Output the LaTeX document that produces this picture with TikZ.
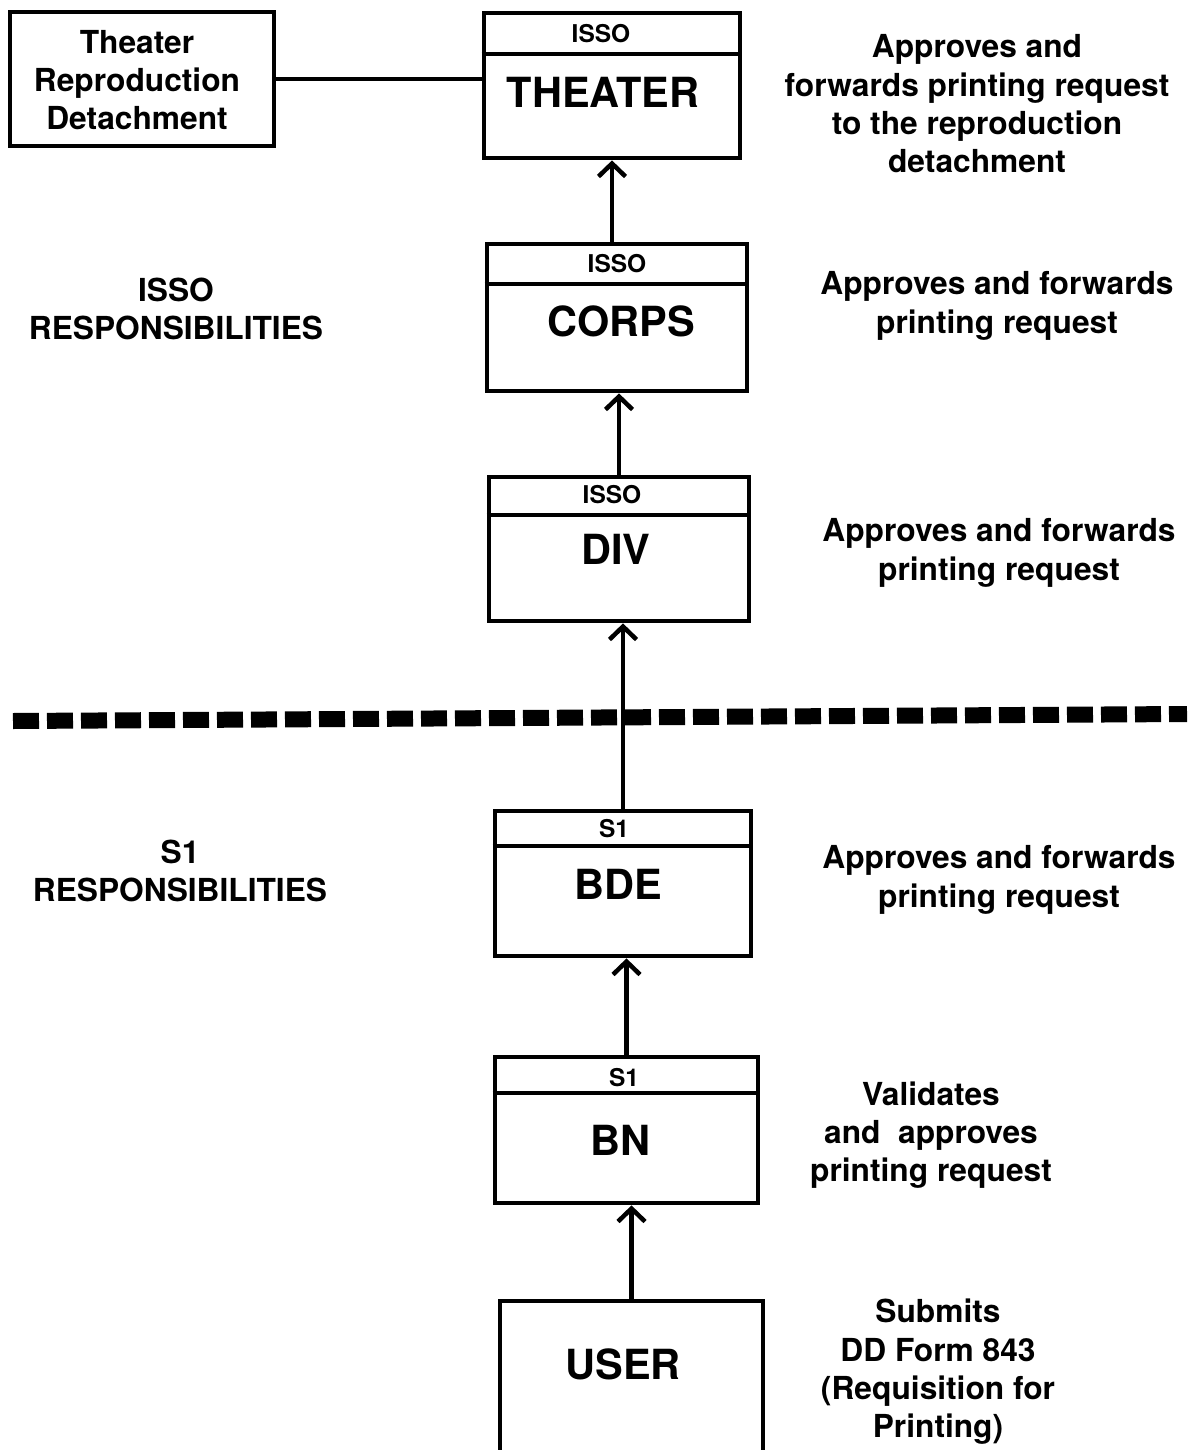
\documentclass[tikz,border=0pt]{standalone}
\usepackage{fontspec}
\setmainfont{TeX Gyre Heros}
\usetikzlibrary{arrows.meta}
\begin{document}
\begin{tikzpicture}[x=1pt,y=-1pt,
  box/.style={draw,line width=4.8pt,rectangle,inner sep=0pt},
  hdr/.style={font=\fontsize{24.5}{28}\selectfont\bfseries,inner sep=0pt},
  lbl/.style={font=\fontsize{41.5}{46}\selectfont\bfseries,inner sep=0pt},
  txt/.style={font=\fontsize{31.7}{38.3}\selectfont\bfseries,align=center,inner sep=0pt},
  divline/.style={line width=3.5pt},
  arr/.style={line width=4.5pt,-{Straight Barb[length=13pt,width=27pt,line width=4.5pt]}}]
\useasboundingbox (0,0) rectangle (1187,1450);
\clip (0,0) rectangle (1187,1450);
% boxes
\node[box,minimum width=264pt,minimum height=134pt] (trd) at (142,79) {};
\node[txt] (trdtxt) at (137,80) {Theater\\Reproduction\\Detachment};
\node[box,minimum width=256pt,minimum height=145pt] (theater) at (612,85.5) {};
\node[box,minimum width=260pt,minimum height=147pt] (corps) at (617,317.5) {};
\node[box,minimum width=260pt,minimum height=144pt] (div) at (619,549) {};
\node[box,minimum width=256pt,minimum height=145pt] (bde) at (623,883.5) {};
\node[box,minimum width=263pt,minimum height=146pt] (bn) at (626.5,1130) {};
\node[box,minimum width=263pt,minimum height=170pt] (user) at (631.5,1386) {};
% header dividers
\coordinate (thd) at (612,54);
\coordinate (cod) at (617,284);
\coordinate (dvd) at (619,515);
\coordinate (bdd) at (623,846);
\coordinate (bnd) at (626.5,1093);
\draw[divline] (theater.west |- thd) -- (theater.east |- thd);
\draw[divline] (corps.west |- cod) -- (corps.east |- cod);
\draw[divline] (div.west |- dvd) -- (div.east |- dvd);
\draw[divline] (bde.west |- bdd) -- (bde.east |- bdd);
\draw[divline] (bn.west |- bnd) -- (bn.east |- bnd);
% header labels
\node[hdr] (thh) at (601,34) {ISSO};
\node[hdr] (coh) at (617,264) {ISSO};
\node[hdr] (dvh) at (612,495) {ISSO};
\node[hdr] (bdh) at (614,829) {S1};
\node[hdr] (bnh) at (624,1078) {S1};
% main labels
\node[lbl] (thl) at (603,92) {THEATER};
\node[lbl] (col) at (621,321) {CORPS};
\node[lbl] (dvl) at (616,549) {DIV};
\node[lbl] (bdl) at (618,884) {BDE};
\node[lbl] (bnl) at (620,1140) {BN};
\node[lbl] (usl) at (623,1364) {USER};
% connectors
\draw[line width=4.5pt] (trd.east) -- (trd.east -| theater.west);
\draw[arr] (theater.south |- corps.north) -- (theater.south);
\draw[arr] (div.north) -- (div.north |- corps.south);
\draw[arr] (bde.north) -- (bde.north |- div.south);
\draw[arr] (bn.north) -- (bn.north |- bde.south);
\draw[arr] (user.north) -- (user.north |- bn.south);
% dashed separator
\coordinate (dl) at (13,721);
\coordinate (dr) at (1187,714);
\draw[line width=16pt,dash pattern=on 26pt off 8pt] (dl) -- (dr);
% side texts
\node[txt] (isso) at (176,309) {ISSO\\RESPONSIBILITIES};
\node[txt] (sone) at (180,871) {S1\\RESPONSIBILITIES};
\node[txt] (t1) at (977,104) {Approves and\\forwards printing request\\to the reproduction\\detachment};
\node[txt] (t2) at (997,306) {Approves and forwards\\printing request};
\node[txt] (t3) at (999,553) {Approves and forwards\\printing request};
\node[txt] (t4) at (999,880) {Approves and forwards\\printing request};
\node[txt] (t5) at (931,1135) {Validates\\and~ approves\\printing request};
\node[txt] (t6) at (938,1372) {Submits\\DD Form 843\\(Requisition for\\Printing)};
\end{tikzpicture}
\end{document}
